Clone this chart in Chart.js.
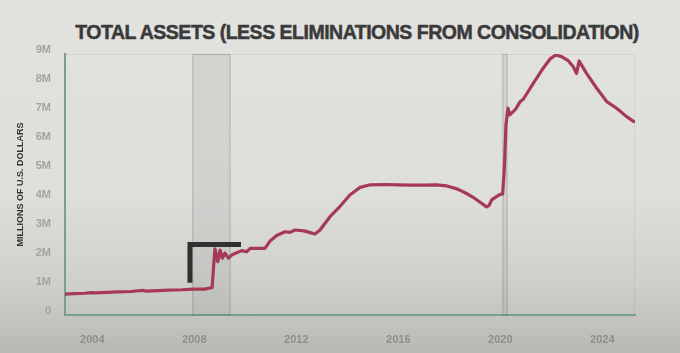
<!DOCTYPE html>
<html>
<head>
<meta charset="utf-8">
<script src="https://cdn.jsdelivr.net/npm/chart.js@4.4.0/dist/chart.umd.min.js"></script>
<style>
  html, body { margin: 0; padding: 0; }
  body {
    width: 680px; height: 353px; overflow: hidden; position: relative;
    background: linear-gradient(to bottom, #e2e2df 0%, #dedfdb 55%, #cfcfcc 80%, #b8b8b5 100%);
  }
  #title {
    position: absolute; left: 0; top: 23px; width: 714px; text-align: center;
    font-family: "Liberation Sans", Arial, sans-serif; font-weight: 700;
    font-size: 19.5px; line-height: 19px; letter-spacing: -0.5px;
    color: #3a3a3a; -webkit-text-stroke: 0.5px #3a3a3a;
  }
  canvas { position: absolute; left: 0; top: 0; }
</style>
</head>
<body>
<div id="title">TOTAL ASSETS (LESS ELIMINATIONS FROM CONSOLIDATION)</div>
<canvas id="chartAssets" width="680" height="353"></canvas>
<script>
// fecha en años decimales, valores en millones de millones (M)
const years = [2002.93, 2003.30, 2003.70, 2003.98, 2004.10, 2004.60, 2005.00, 2005.50, 2005.99, 2006.10,
  2006.60, 2007.00, 2007.50, 2008.00, 2008.40, 2008.62, 2008.70, 2008.75, 2008.81, 2008.92,
  2009.01, 2009.10, 2009.20, 2009.34, 2009.47, 2009.66, 2009.86, 2010.05, 2010.19, 2010.50,
  2010.77, 2010.97, 2011.23, 2011.56, 2011.75, 2011.95, 2012.30, 2012.55, 2012.73, 2012.93,
  2013.32, 2013.70, 2014.10, 2014.50, 2014.90, 2015.50, 2016.00, 2016.50, 2017.00, 2017.50,
  2017.90, 2018.30, 2018.70, 2019.00, 2019.25, 2019.46, 2019.56, 2019.66, 2019.85, 2019.99,
  2020.09, 2020.16, 2020.22, 2020.30, 2020.37, 2020.60, 2020.77, 2020.90, 2021.29, 2021.68,
  2021.95, 2022.18, 2022.40, 2022.66, 2022.86, 2022.99, 2023.09, 2023.38, 2023.78, 2024.17,
  2024.56, 2024.95, 2025.24];
const totalAssets = [0.72, 0.74, 0.75, 0.77, 0.76, 0.78, 0.80, 0.81, 0.85, 0.82,
  0.84, 0.86, 0.87, 0.89, 0.89, 0.93, 0.94, 1.60, 2.28, 1.84,
  2.24, 1.96, 2.13, 1.96, 2.07, 2.15, 2.22, 2.18, 2.30, 2.30,
  2.30, 2.55, 2.74, 2.87, 2.85, 2.93, 2.90, 2.84, 2.79, 2.93,
  3.39, 3.73, 4.14, 4.40, 4.49, 4.50, 4.49, 4.48, 4.48, 4.49,
  4.45, 4.35, 4.18, 4.02, 3.86, 3.73, 3.78, 3.97, 4.08, 4.16,
  4.17, 5.10, 6.55, 7.13, 6.90, 7.10, 7.35, 7.44, 7.99, 8.51,
  8.83, 8.97, 8.91, 8.77, 8.56, 8.33, 8.76, 8.33, 7.82, 7.36,
  7.13, 6.84, 6.67];

const xTicks = [2004, 2008, 2012, 2016, 2020, 2024];
const yTicks = [0, 1, 2, 3, 4, 5, 6, 7, 8, 9];

// recesiones (bandas grises)
const recessionStart = [2007.92, 2020.08];
const recessionEnd = [2009.42, 2020.28];

// corchete negro sobre 2008
const bracketX = [2007.83, 2007.83, 2009.83];
const bracketY = [1.11, 2.43, 2.43];

const bandas = {
    id: 'bandas',
    beforeDatasetsDraw(chart) {
        const { ctx, chartArea, scales } = chart;
        ctx.save();
        // marco muy tenue arriba y a la derecha
        ctx.strokeStyle = 'rgba(0,0,0,0.05)';
        ctx.lineWidth = 1;
        ctx.beginPath();
        ctx.moveTo(chartArea.left, chartArea.top + 0.5);
        ctx.lineTo(chartArea.right - 0.5, chartArea.top + 0.5);
        ctx.lineTo(chartArea.right - 0.5, chartArea.bottom);
        ctx.stroke();
        for (let i = 0; i < recessionStart.length; i++) {
            const x1 = scales.x.getPixelForValue(recessionStart[i]);
            const x2 = scales.x.getPixelForValue(recessionEnd[i]);
            ctx.fillStyle = 'rgba(120,125,120,0.13)';
            ctx.fillRect(x1, chartArea.top, x2 - x1, chartArea.bottom - chartArea.top);
            ctx.strokeStyle = 'rgba(110,115,110,0.35)';
            ctx.strokeRect(x1 + 0.5, chartArea.top + 0.5, x2 - x1 - 1, chartArea.bottom - chartArea.top);
        }
        ctx.restore();
    }
};

const ctx = document.getElementById('chartAssets').getContext('2d');
const chart = new Chart(ctx, {
    type: 'line',
    data: {
        datasets: [{
            label: 'Total Assets',
            data: years.map((y, i) => ({ x: y, y: totalAssets[i] })),
            borderColor: '#a63a55',
            borderWidth: 3.2,
            borderJoinStyle: 'round',
            borderCapStyle: 'round',
            pointRadius: 0,
            tension: 0,
            order: 1
        }, {
            label: 'bracket',
            data: bracketX.map((x, i) => ({ x: x, y: bracketY[i] })),
            borderColor: '#2f302f',
            borderWidth: 5,
            borderJoinStyle: 'miter',
            borderCapStyle: 'butt',
            pointRadius: 0,
            tension: 0,
            order: 0
        }]
    },
    options: {
        responsive: false,
        animation: false,
        devicePixelRatio: 1,
        layout: { padding: { top: 54, right: 45, left: 0, bottom: 0 } },
        plugins: {
            legend: { display: false },
            tooltip: { enabled: false }
        },
        scales: {
            x: {
                type: 'linear',
                min: 2002.93,
                max: 2025.28,
                afterBuildTicks: s => { s.ticks = xTicks.map(v => ({ value: v })); },
                afterFit: s => { s.height = 38; },
                grid: { display: false },
                border: { color: '#77a18c', width: 2 },
                ticks: {
                    callback: v => String(v),
                    font: { family: 'Liberation Sans', size: 11, weight: 'bold' },
                    color: '#8d8d8b',
                    padding: 10,
                    maxRotation: 0
                }
            },
            y: {
                min: 0,
                max: 9,
                afterBuildTicks: s => { s.ticks = yTicks.map(v => ({ value: v })); },
                afterFit: s => { s.width = 65; },
                grid: { display: false },
                border: { color: '#77a18c', width: 2 },
                ticks: {
                    callback: v => v === 0 ? '0' : v + 'M',
                    font: { family: 'Liberation Sans', size: 11, weight: 'bold' },
                    color: '#a3a3a1',
                    padding: 6,
                    labelOffset: -4
                },
                title: {
                    display: true,
                    text: 'MILLIONS OF U.S. DOLLARS',
                    font: { family: 'Liberation Sans', size: 9, weight: 'bold' },
                    color: '#333333',
                    padding: { top: 15 }
                }
            }
        }
    },
    plugins: [bandas]
});
</script>
</body>
</html>
